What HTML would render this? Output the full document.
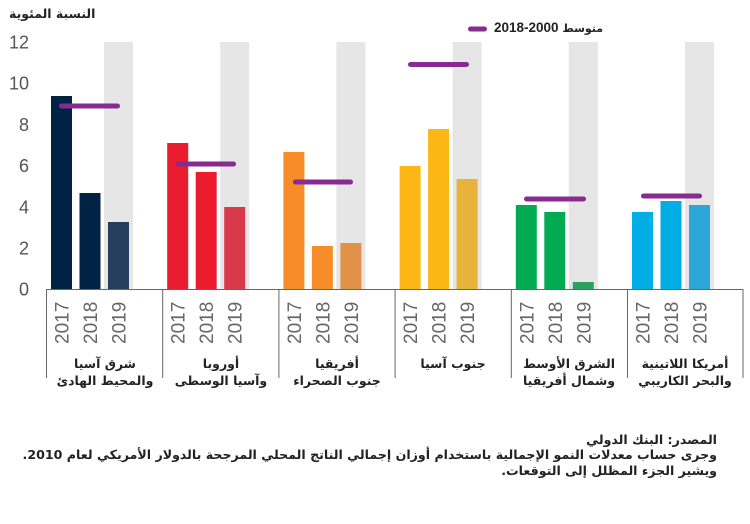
<!DOCTYPE html>
<html>
<head>
<meta charset="utf-8">
<style>
html,body{margin:0;padding:0;background:#fff;}
body{width:750px;height:524px;position:relative;overflow:hidden;font-family:"DejaVu Sans","Liberation Sans",sans-serif;}
.ytitle{position:absolute;left:9px;top:6px;font-size:12.5px;font-weight:bold;color:#222;direction:rtl;white-space:nowrap;}
.legend{position:absolute;left:494px;top:17px;font-weight:bold;color:#222;white-space:nowrap;}
.legend .n{font-family:"Liberation Sans",sans-serif;font-size:13.5px;}
.legend .a{font-family:"DejaVu Sans",sans-serif;font-size:11px;}
.foot{position:absolute;right:33px;top:431.5px;direction:rtl;text-align:right;font-size:12.6px;font-weight:bold;color:#222;line-height:15.5px;white-space:nowrap;}
</style>
</head>
<body>
<svg width="750" height="524" style="position:absolute;left:0;top:0" xmlns="http://www.w3.org/2000/svg">
  <g fill="#e6e6e6">
    <rect x="104" y="42" width="29" height="247"/>
    <rect x="220.2" y="42" width="29" height="247"/>
    <rect x="336.4" y="42" width="29" height="247"/>
    <rect x="452.6" y="42" width="29" height="247"/>
    <rect x="568.8" y="42" width="29" height="247"/>
    <rect x="685" y="42" width="29" height="247"/>
  </g>
  <g font-family="Liberation Sans, sans-serif" font-size="18" fill="#555" text-anchor="end">
    <text x="29" y="48.5">12</text>
    <text x="29" y="89.7">10</text>
    <text x="29" y="130.9">8</text>
    <text x="29" y="172.1">6</text>
    <text x="29" y="213.3">4</text>
    <text x="29" y="254.5">2</text>
    <text x="29" y="295.7">0</text>
  </g>
  <rect x="51" y="96" width="21" height="193" fill="#002244"/>
  <rect x="79.5" y="193" width="21" height="96" fill="#002244"/>
  <rect x="108" y="222" width="21" height="67" fill="#263f5c"/>
  <rect x="167.2" y="143" width="21" height="146" fill="#eb1c2d"/>
  <rect x="195.7" y="172" width="21" height="117" fill="#eb1c2d"/>
  <rect x="224.2" y="207" width="21" height="82" fill="#d93a4b"/>
  <rect x="283.4" y="152" width="21" height="137" fill="#f78d28"/>
  <rect x="311.9" y="246" width="21" height="43" fill="#f78d28"/>
  <rect x="340.4" y="243" width="21" height="46" fill="#e19249"/>
  <rect x="399.6" y="166" width="21" height="123" fill="#fdb714"/>
  <rect x="428.1" y="129" width="21" height="160" fill="#fdb714"/>
  <rect x="456.6" y="179" width="21" height="110" fill="#e8b33a"/>
  <rect x="515.8" y="205" width="21" height="84" fill="#00ab51"/>
  <rect x="544.3" y="212" width="21" height="77" fill="#00ab51"/>
  <rect x="572.8" y="282" width="21" height="7" fill="#2ca260"/>
  <rect x="632" y="212" width="21" height="77" fill="#00aee6"/>
  <rect x="660.5" y="201" width="21" height="88" fill="#00aee6"/>
  <rect x="689" y="205" width="21" height="84" fill="#2ba8d8"/>
  <g stroke="#872b90" stroke-width="5" stroke-linecap="round">
    <line x1="61.5" y1="106" x2="117.5" y2="106"/>
    <line x1="178.5" y1="164" x2="233.5" y2="164"/>
    <line x1="295.5" y1="182" x2="350.5" y2="182"/>
    <line x1="410.5" y1="64.5" x2="466.5" y2="64.5"/>
    <line x1="526.5" y1="199" x2="583.5" y2="199"/>
    <line x1="643.5" y1="196" x2="699.5" y2="196"/>
    <line x1="470.5" y1="29" x2="484.5" y2="29"/>
  </g>
  <g stroke="#666" stroke-width="1">
    <line x1="46" y1="289.5" x2="743" y2="289.5"/>
    <line x1="46.5" y1="289" x2="46.5" y2="378"/>
    <line x1="162.7" y1="289" x2="162.7" y2="378"/>
    <line x1="278.9" y1="289" x2="278.9" y2="378"/>
    <line x1="395.1" y1="289" x2="395.1" y2="378"/>
    <line x1="511.3" y1="289" x2="511.3" y2="378"/>
    <line x1="627.5" y1="289" x2="627.5" y2="378"/>
    <line x1="743" y1="289" x2="743" y2="378"/>
  </g>
  <g font-family="Liberation Sans, sans-serif" font-size="19" fill="#666">
    <text transform="translate(68.5,344) rotate(-90)">2017</text>
    <text transform="translate(97,344) rotate(-90)">2018</text>
    <text transform="translate(125.5,344) rotate(-90)">2019</text>
    <text transform="translate(184.7,344) rotate(-90)">2017</text>
    <text transform="translate(213.2,344) rotate(-90)">2018</text>
    <text transform="translate(241.7,344) rotate(-90)">2019</text>
    <text transform="translate(300.9,344) rotate(-90)">2017</text>
    <text transform="translate(329.4,344) rotate(-90)">2018</text>
    <text transform="translate(357.9,344) rotate(-90)">2019</text>
    <text transform="translate(417.1,344) rotate(-90)">2017</text>
    <text transform="translate(445.6,344) rotate(-90)">2018</text>
    <text transform="translate(474.1,344) rotate(-90)">2019</text>
    <text transform="translate(533.3,344) rotate(-90)">2017</text>
    <text transform="translate(561.8,344) rotate(-90)">2018</text>
    <text transform="translate(590.3,344) rotate(-90)">2019</text>
    <text transform="translate(649.5,344) rotate(-90)">2017</text>
    <text transform="translate(678,344) rotate(-90)">2018</text>
    <text transform="translate(706.5,344) rotate(-90)">2019</text>
  </g>
  <g font-family="DejaVu Sans, sans-serif" font-size="12.5" font-weight="bold" fill="#222" text-anchor="middle">
    <text x="105" y="368">شرق آسيا</text>
    <text x="105" y="385">والمحيط الهادئ</text>
    <text x="221" y="368">أوروبا</text>
    <text x="221" y="385">وآسيا الوسطى</text>
    <text x="337" y="368">أفريقيا</text>
    <text x="337" y="385">جنوب الصحراء</text>
    <text x="453" y="368">جنوب آسيا</text>
    <text x="569" y="368">الشرق الأوسط</text>
    <text x="569" y="385">وشمال أفريقيا</text>
    <text x="685" y="368">أمريكا اللاتينية</text>
    <text x="685" y="385">والبحر الكاريبي</text>
  </g>
</svg>
<div class="ytitle">النسبة المئوية</div>
<div class="legend"><span class="n" dir="ltr" style="unicode-bidi:bidi-override">2018-2000 </span><span class="a" dir="rtl">متوسط</span></div>
<div class="foot">المصدر: البنك الدولي<br>وجرى حساب معدلات النمو الإجمالية باستخدام أوزان إجمالي الناتج المحلي المرجحة بالدولار الأمريكي لعام 2010.<br>ويشير الجزء المظلل إلى التوقعات.</div>
</body>
</html>
